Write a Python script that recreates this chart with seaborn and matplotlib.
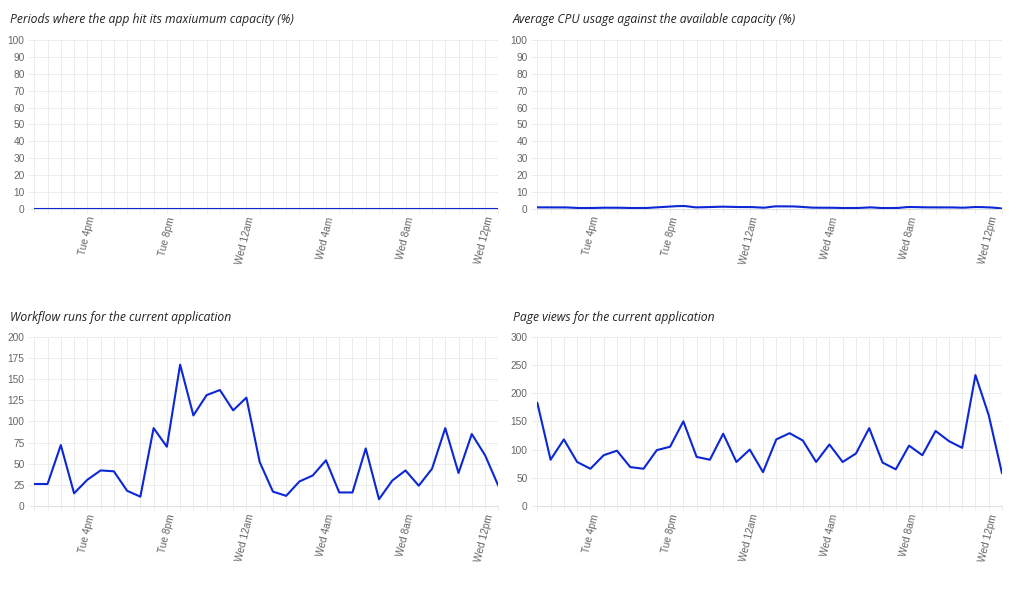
import matplotlib
matplotlib.use("Agg")
import matplotlib.pyplot as plt
from matplotlib import font_manager as fm
import seaborn as sns
import numpy as np
import pandas as pd

# ---- data ----
n_points = 36  # 40-minute intervals from Tue 1:20pm to Wed 12:40pm
tick_positions = [4, 10, 16, 22, 28, 34]
tick_labels = ["Tue 4pm", "Tue 8pm", "Wed 12am", "Wed 4am", "Wed 8am", "Wed 12pm"]

capacity_hits = [0] * 36

cpu_usage = [0.8, 0.8, 0.8, 0.4, 0.4, 0.6, 0.6, 0.4, 0.4, 0.8, 0.6, 1.6,
             0.8, 1.0, 1.2, 1.0, 1.0, 0.6, 1.4, 1.4, 0.6, 0.6, 0.6, 0.4,
             0.4, 0.8, 0.4, 0.4, 1.0, 0.8, 1.0, 0.8, 0.6, 1.0, 0.8, 0.1]

workflow_runs = [26, 26, 72, 15, 31, 42, 41, 18, 11, 92, 70, 167,
                 107, 131, 137, 113, 128, 52, 17, 12, 29, 36, 54, 16,
                 16, 68, 8, 30, 42, 24, 44, 92, 39, 85, 60, 24]

page_views = [183, 82, 118, 78, 66, 90, 98, 69, 66, 99, 105, 150,
              87, 82, 128, 78, 100, 60, 118, 129, 116, 78, 109, 78,
              93, 138, 77, 65, 107, 90, 133, 115, 103, 232, 161, 58]

titles = ["Periods where the app hit its maxiumum capacity (%)",
          "Average CPU usage against the available capacity (%)",
          "Workflow runs for the current application",
          "Page views for the current application"]
y_max = [100, 100, 200, 300]
y_step = [10, 10, 25, 50]

sns.set_theme(style="white")
plt.rcParams["font.family"] = ["Liberation Sans", "DejaVu Sans"]

# pick the regular (upright, normal width) Liberation Sans file explicitly
tick_fp = None
for f in fm.fontManager.ttflist:
    if (f.name == "Liberation Sans" and f.style == "normal"
            and f.weight in (400, "normal", "regular") and f.stretch in ("normal", 500)):
        tick_fp = fm.FontProperties(fname=f.fname, size=7.3)
        break
if tick_fp is None:
    tick_fp = fm.FontProperties(family="DejaVu Sans", size=7.0)

W, H = 1024, 589
fig = plt.figure(figsize=(W / 100, H / 100), dpi=100)
fig.patch.set_facecolor("white")

LINE = "#0b27d6"
GRID = "#ececec"
LABEL = "#666666"

# pixel boxes: (left, top, right, bottom)
boxes = [(34.3, 40.3, 498.3, 208.7),
         (537.3, 40.3, 1002.0, 208.7),
         (34.3, 336.7, 498.3, 506.0),
         (537.3, 336.7, 1002.0, 506.0)]
title_pos = [(10, 20), (513, 20), (10, 317), (513, 317)]
series = [capacity_hits, cpu_usage, workflow_runs, page_views]

for i in range(4):
    l, t, r, b = boxes[i]
    ax = fig.add_axes([l / W, 1 - b / H, (r - l) / W, (b - t) / H])
    df = pd.DataFrame({"x": np.arange(n_points), "y": series[i]})
    if i == 1:
        # smooth line (chart.js tension): pchip through a dense index
        xs = np.linspace(0, n_points - 1, 400)
        dense = pd.Series(np.nan, index=np.round(xs, 6))
        base = pd.Series(series[i], index=np.arange(n_points).astype(float))
        comb = pd.concat([base, dense]).sort_index()
        comb = comb[~comb.index.duplicated(keep="first")]
        comb = comb.interpolate(method="pchip")
        dfs = pd.DataFrame({"x": comb.index.values, "y": comb.values})
        sns.lineplot(data=dfs, x="x", y="y", ax=ax, color=LINE, linewidth=1.5)
    else:
        sns.lineplot(data=df, x="x", y="y", ax=ax, color=LINE, linewidth=1.5)

    ax.set_xlim(0, n_points - 1)
    ax.set_ylim(0, y_max[i])
    ax.set_xlabel("")
    ax.set_ylabel("")

    ax.set_xticks(np.arange(n_points))
    labels = [""] * n_points
    for p, lab in zip(tick_positions, tick_labels):
        labels[p] = lab
    ax.set_xticklabels(labels, rotation=76, ha="right", rotation_mode="anchor",
                       fontproperties=tick_fp, color=LABEL)
    yt = np.arange(0, y_max[i] + 1, y_step[i])
    ax.set_yticks(yt)
    ax.set_yticklabels([str(v) for v in yt], fontproperties=tick_fp, color=LABEL)

    ax.grid(True, color=GRID, linewidth=0.7)
    ax.set_axisbelow(True)
    for s in ["top", "right", "left", "bottom"]:
        ax.spines[s].set_visible(False)
    ax.spines["bottom"].set_visible(True)
    ax.spines["bottom"].set_color("#dedede")
    ax.spines["bottom"].set_linewidth(0.7)
    ax.tick_params(axis="x", length=3, width=0.7, color=GRID, pad=2, bottom=True)
    ax.tick_params(axis="y", length=4, width=0.7, color=GRID, pad=3, left=True)

    tx, ty = title_pos[i]
    fig.text(tx / W, 1 - ty / H, titles[i], fontsize=8.7, style="italic",
             family=["Open Sans", "DejaVu Sans"], color="#222222",
             ha="left", va="center")

fig.savefig("out.png", dpi=100, facecolor="white")
